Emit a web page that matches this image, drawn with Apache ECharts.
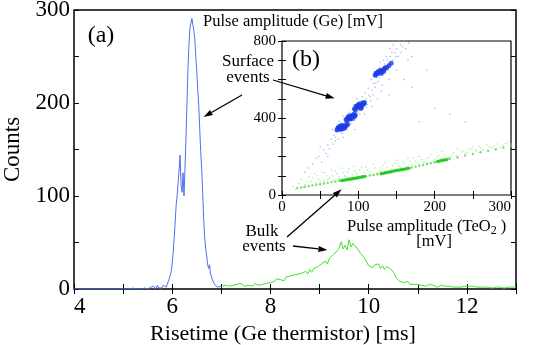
<!DOCTYPE html>
<html>
<head>
<meta charset="utf-8">
<script src="https://cdn.jsdelivr.net/npm/echarts@6/dist/echarts.min.js"></script>
<style>
  html, body { margin: 0; background: #fff; }
  #chart { width: 540px; height: 345px; }
</style>
</head>
<body>
<div id="chart"></div>
<script>
// (a) risetime histograms, bin centres start + i*step [ms]
const blueStart = 4.0, blueStep = 0.02;
const blueCounts = [
  0,0,0,0,0,0,0,0,0,0, 0,0,0,0,0,0,0,0,0,0, 0,0,0,0,0,0,0,0,0,0,
  0,0,0,0,0,0,0,0,0,0, 0,0,0,0,0,0,0,0,0,0,
  0,0,0,0,0,0,0,0,1,2, 1,0,0,0,0,0,0,0,0,0, 0,0,1,0,0,
  0,1,0,2,1,0,3,1,0,2, 4,1,2,3,1,2,4,3,5,2,
  5,8,11,15,19,28,40,55,72,90, 100,114,128,144,112,104,125,100,130,162,
  198,236,262,280,286,291,284,278,268,250, 234,214,198,172,148,128,104,76,56,44,
  36,27,22,26,16,14,10,9,5,3, 4,2,3,2,3,2
];
const greenStart = 7.0, greenStep = 0.04;
const greenCounts = [
  3,5,4,6,3,5,4,3,5,4,6,4,3,5,4,5,3,6,5,4,6,5,7,6,8,
  7,9,8,11,9,10,12,9,13,11,14,12,15,13,16,14,17,15,19,16,21,18,22,20,24,
  22,27,25,30,27,33,31,37,35,41, 44,51,43,47,42,53,45,49,50,44, 41,38,36,33,29,
  25,27,23,26,24,27,22,25,21,24, 26,22,24,17,12,10,8,9,7,6, 8,5,6,5,4,
  5,6,4,5,3,4,5,3,4,3, 2,3,4,2,3,2,3,2,2,3, 2,3,2,2,3,
  4,3,2,3,2,2,3,2,1,2, 3,2,2,1,2,2,3,2,2,1, 2,2,3,2,2,
  2
];

// (b) pulse amplitude TeO2 [mV] vs Ge [mV]
const surfaceDense = [
  [72,338],[75,345],[78,350],[81,356],[84,362],[76,358],[80,344],[86,366],[74,352],[82,350],
  [77,340],[79,362],[83,358],[73,345],
  [84,392],[87,398],[90,404],[93,410],[96,416],[88,410],[92,398],[86,402],[95,408],
  [85,385],[89,395],[91,412],[94,420],[89,405],
  [95,448],[98,454],[101,460],[104,466],[107,472],[100,468],[104,456],[97,460],[108,480],[102,474],
  [96,442],[99,465],[103,450],[106,478],[100,458],
  [122,622],[125,630],[128,638],[131,646],[134,654],[126,642],[130,632],[124,634],[137,662],[140,672],[143,684],
  [123,628],[127,636],[129,648],[133,642],[135,660]
];
const surfaceSparse = [
  [30,120],[40,160],[48,200],[55,235],[60,260],[64,290],[68,310],[70,280],[72,330],[66,340],
  [75,385],[78,320],[82,395],[85,340],[88,430],[90,370],[92,445],[95,390],[98,500],[100,430],
  [104,490],[106,445],[110,500],[112,470],[114,520],[118,545],[116,490],[120,580],[122,560],[124,610],
  [126,590],[128,660],[132,620],[134,680],[136,640],[138,700],[140,680],[142,720],[145,700],[148,740],
  [150,760],[152,720],[155,780],[158,770],[160,800],[130,540],[140,600],[150,650],[165,700],[108,420],
  [118,460],[95,340],[80,300],[125,500],[170,560],[200,450],[180,380],
  [35,140],[45,190],[52,170],[58,215],[62,240],[67,265],[70,300],[74,290],[77,370],[80,410],
  [83,375],[86,350],[89,420],[91,385],[94,470],[97,430],[99,480],[102,420],[105,510],[107,480],
  [109,530],[111,455],[113,555],[115,510],[117,600],[119,520],[121,640],[123,580],[127,610],[129,690],
  [131,570],[133,700],[135,660],[137,720],[139,650],[141,760],[144,740],[146,780],[149,720],[153,800],
  [156,740],[162,760],[166,790],[170,720],[60,200],[50,250],[140,520],[160,600],[190,650],[220,420],[240,380]
];
const bulkBand = [
  [20,36],[25,39],[30,43],[35,46],[40,50],[45,53],[50,56],[55,60],[60,63],[65,67],[70,70],
  [75,74],[80,77],[84,79],[88,82],[92,85],[96,87],[100,90],[105,94],[110,97],[115,101],
  [120,104],[125,108],[130,111],[134,114],[138,117],[142,120],[146,124],[150,127],[155,130],
  [160,134],[165,138],[170,143],[175,147],[180,152],[185,156],[190,161],[195,165],[200,170],
  [205,175],[210,180],[214,183],[220,188],[230,196],[240,205],[250,213],[260,222],[270,230],
  [280,238],[290,246],[300,255]
];
const bulkBright = [
  [78,75],[81,77],[84,79],[87,81],[90,83],[93,85],[96,87],[99,89],[102,91],[105,94],[108,96],
  [130,111],[133,113],[136,116],[139,118],[142,120],[145,123],[148,126],[151,128],[154,130],
  [157,132],[160,134],[163,136],[166,139],
  [204,174],[207,177],[210,180],[213,182],[216,184]
];
const bulkSparse = [
  [15,45],[22,60],[25,80],[30,55],[35,95],[38,70],[42,110],[45,62],[48,85],[52,120],
  [55,75],[58,100],[62,90],[65,130],[68,80],[72,110],[75,95],[78,140],[82,100],[86,120],
  [90,90],[94,150],[98,110],[102,130],[106,100],[110,145],[115,120],[120,160],[125,115],[130,140],
  [135,170],[140,130],[145,155],[150,180],[155,145],[160,165],[165,190],[170,160],[175,175],[180,200],
  [185,170],[190,190],[195,210],[200,185],[205,205],[210,225],[220,200],[225,220],[230,240],[240,215],
  [245,235],[250,250],[255,230],[260,245],[268,260],[275,245],[282,265],[290,258],[296,275],[300,265],
  [18,30],[28,40],[33,70],[40,90],[46,100],[50,70],[56,115],[60,80],[66,100],[70,125],
  [74,85],[80,115],[84,95],[88,135],[92,105],[96,125],[100,100],[104,145],[108,115],[112,130],
  [118,105],[122,140],[128,125],[132,155],[138,145],[143,135],[148,165],[153,150],[158,175],[163,150],
  [168,175],[172,195],[178,165],[183,185],[188,170],[193,195],[198,175],[203,195],[208,190],[213,210],
  [218,195],[223,210],[228,205],[235,225],[238,230],[243,220],[248,240],[253,235],[258,255],[263,235],
  [272,250],[278,255],[286,250],[293,268]
];

const mainXLabels = [4, 6, 8, 10, 12];
const mainYLabels = [0, 100, 200, 300];
const insetXLabels = [0, 100, 200, 300];
const insetYLabels = [0, 400, 800];

const font = "Liberation Serif";
const chart = echarts.init(document.getElementById("chart"));

const tick = { inside: true, length: 5, lineStyle: { color: "#000", width: 1 } };
const insetTick = { inside: true, length: 4, lineStyle: { color: "#000", width: 1 } };
const noLine = { show: false };
const noSplit = { show: false };

function lbl(list, size, margin) {
  return {
    color: "#000", fontFamily: font, fontSize: size, margin: margin,
    formatter: (v) => (list.includes(v) ? v : ""),
  };
}

const option = {
  animation: false,
  grid: [
    { left: 74, right: 24, top: 10, bottom: 56, show: true, borderColor: "#000", borderWidth: 1.5,
      outerBoundsMode: "none", containLabel: false },
    { left: 282, top: 41, width: 229, height: 154, show: true, backgroundColor: "#fff",
      borderColor: "#000", borderWidth: 1.2, z: 5, outerBoundsMode: "none", containLabel: false },
  ],
  xAxis: [
    {
      gridIndex: 0, type: "value", min: 4, max: 13, interval: 1, position: "bottom",
      axisLine: noLine, axisTick: tick, splitLine: noSplit,
      axisLabel: Object.assign(lbl(mainXLabels, 23, 6), { alignMinLabel: "left" }),
      name: "Risetime (Ge thermistor) [ms]", nameLocation: "middle", nameGap: 29,
      nameTextStyle: { color: "#000", fontFamily: font, fontSize: 22, padding: [0, 24, 0, 0] },
    },
    {
      gridIndex: 0, type: "value", min: 4, max: 13, interval: 1, position: "top",
      axisLine: noLine, axisTick: tick, splitLine: noSplit, axisLabel: { show: false },
    },
    {
      gridIndex: 1, type: "value", min: 0, max: 300, interval: 50, position: "bottom", z: 6,
      axisLine: noLine, axisTick: insetTick, splitLine: noSplit,
      axisLabel: Object.assign(lbl(insetXLabels, 15, 5), { alignMaxLabel: "right" }),
    },
    {
      gridIndex: 1, type: "value", min: 0, max: 300, interval: 50, position: "top", z: 6,
      axisLine: noLine, axisTick: insetTick, splitLine: noSplit, axisLabel: { show: false },
    },
  ],
  yAxis: [
    {
      gridIndex: 0, type: "value", min: 0, max: 300, interval: 50, position: "left",
      axisLine: noLine, axisTick: tick, splitLine: noSplit,
      axisLabel: lbl(mainYLabels, 23, 4),
      name: "Counts", nameLocation: "middle", nameGap: 49,
      nameTextStyle: { color: "#000", fontFamily: font, fontSize: 23 },
    },
    {
      gridIndex: 0, type: "value", min: 0, max: 300, interval: 50, position: "right",
      axisLine: noLine, axisTick: tick, splitLine: noSplit, axisLabel: { show: false },
    },
    {
      gridIndex: 1, type: "value", min: 0, max: 800, interval: 100, position: "left", z: 6,
      axisLine: noLine, axisTick: insetTick, splitLine: noSplit,
      axisLabel: lbl(insetYLabels, 15, 6),
    },
    {
      gridIndex: 1, type: "value", min: 0, max: 800, interval: 100, position: "right", z: 6,
      axisLine: noLine, axisTick: insetTick, splitLine: noSplit, axisLabel: { show: false },
    },
  ],
  series: [
    {
      type: "line", xAxisIndex: 0, yAxisIndex: 0, showSymbol: false,
      lineStyle: { color: "#4f6ff0", width: 1 },
      data: blueCounts.map((c, i) => [+(blueStart + i * blueStep).toFixed(2), c]),
    },
    {
      type: "line", xAxisIndex: 0, yAxisIndex: 0, showSymbol: false,
      lineStyle: { color: "#44e030", width: 1 },
      data: greenCounts.map((c, i) => [+(greenStart + i * greenStep).toFixed(2), c]),
    },
    {
      type: "scatter", xAxisIndex: 2, yAxisIndex: 2, z: 7, symbolSize: 1.5,
      itemStyle: { color: "#8ae886" }, data: bulkSparse,
    },
    {
      type: "scatter", xAxisIndex: 2, yAxisIndex: 2, z: 7, symbolSize: 1.5,
      itemStyle: { color: "#8c9ef2" }, data: surfaceSparse,
    },
    {
      type: "scatter", xAxisIndex: 2, yAxisIndex: 2, z: 8, symbolSize: 2.4,
      itemStyle: { color: "#4fd846" }, data: bulkBand,
    },
    {
      type: "scatter", xAxisIndex: 2, yAxisIndex: 2, z: 8, symbolSize: 3.6,
      itemStyle: { color: "#14c414" }, data: bulkBright,
    },
    {
      type: "scatter", xAxisIndex: 2, yAxisIndex: 2, z: 8, symbolSize: 5,
      itemStyle: { color: "#1a3ce6" }, data: surfaceDense,
    },
  ],
};
chart.setOption(option);

// annotations: arrows from the labels to points on the data
function arrow(from, to) {
  const dx = to[0] - from[0], dy = to[1] - from[1];
  const len = Math.sqrt(dx * dx + dy * dy);
  const ux = dx / len, uy = dy / len;
  const bx = to[0] - ux * 9, by = to[1] - uy * 9;
  return [
    { type: "line", z: 100, shape: { x1: from[0], y1: from[1], x2: bx, y2: by },
      style: { stroke: "#000", lineWidth: 1.3 } },
    { type: "polygon", z: 100,
      shape: { points: [to, [bx - uy * 3, by + ux * 3], [bx + uy * 3, by - ux * 3]] },
      style: { fill: "#000" } },
  ];
}
function txt(text, x, y, size, align) {
  return { type: "text", z: 100,
    style: { text: text, x: x, y: y, fill: "#000", font: size + 'px "' + font + '"',
      align: align || "center", verticalAlign: "middle" } };
}
const main = (p) => chart.convertToPixel({ gridIndex: 0 }, p);
const inset = (p) => chart.convertToPixel({ gridIndex: 1 }, p);

const graphics = [].concat(
  arrow([242, 95], main([6.64, 185])),
  arrow([273, 80], inset([69, 502])),
  arrow([287, 237], inset([78, 30])),
  arrow([293, 246], main([9.16, 42])),
  [
    txt("(a)", 101, 36, 24),
    txt("(b)", 306, 60, 24),
    txt("Surface", 248, 62, 17),
    txt("events", 248, 78, 17),
    txt("Bulk", 262, 232, 17),
    txt("events", 264, 247, 17),
    txt("Pulse amplitude (Ge) [mV]", 203, 22, 16.5, "left"),
    txt("[mV]", 434, 242, 16.5),
    { type: "text", z: 100,
      style: { text: "Pulse amplitude (TeO{sub|2} )", x: 347, y: 227, fill: "#000",
        font: '16.5px "' + font + '"', align: "left", verticalAlign: "middle",
        rich: { sub: { fontFamily: font, fontSize: 12, padding: [7, 0, 0, 0] } } } },
  ]
);
chart.setOption({ graphic: graphics });

window.onresize = () => {
  chart.resize();
};
</script>
</body>
</html>
